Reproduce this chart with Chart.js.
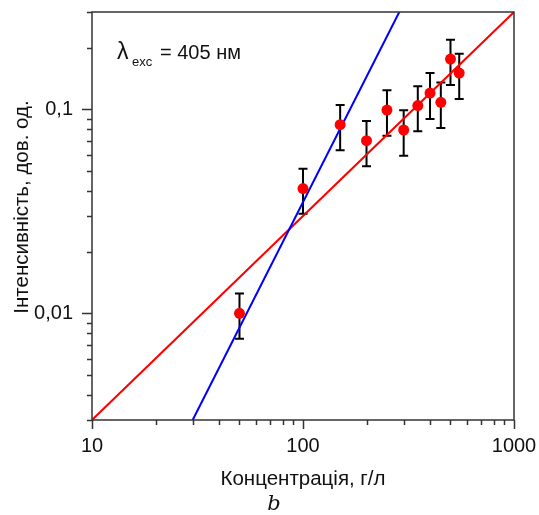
<!DOCTYPE html>
<html>
<head>
<meta charset="utf-8">
<script src="https://cdn.jsdelivr.net/npm/chart.js@4"></script>
<style>
  html, body { margin: 0; padding: 0; background: #fff; }
  #wrap { width: 539px; height: 515px; }
</style>
</head>
<body>
<div id="wrap"><canvas id="chart" width="539" height="515"></canvas></div>
<script>
// data
const concentration = [50, 100, 150, 200, 250, 300, 350, 400, 450, 500, 550];
const intensity = [0.0100, 0.0409, 0.0841, 0.0702, 0.0992, 0.0792, 0.1043, 0.1202, 0.1082, 0.1764, 0.1506];
const errHigh = [0.0125, 0.0512, 0.105, 0.0876, 0.124, 0.0989, 0.1296, 0.1506, 0.1352, 0.2195, 0.1875];
const errLow = [0.0075, 0.0308, 0.063, 0.0526, 0.0743, 0.0593, 0.078, 0.0897, 0.081, 0.1315, 0.1123];

const redFitX = [10, 1000];
const redFitY = [0.003, 0.3];
const blueFitX = [30, 286];
const blueFitY = [0.003, 0.3];

const xTicks = [10, 20, 30, 40, 50, 60, 70, 80, 90, 100, 200, 300, 400, 500, 600, 700, 800, 900, 1000];
const xMajor = [10, 100, 1000];
const yTicks = [0.003, 0.004, 0.005, 0.006, 0.007, 0.008, 0.009, 0.01, 0.02, 0.03, 0.04, 0.05, 0.06, 0.07, 0.08, 0.09, 0.1, 0.2, 0.3];
const yMajor = [0.01, 0.1];
const yLabels = { 0.01: "0,01", 0.1: "0,1" };

const FONT = "'Liberation Sans', Arial, sans-serif";
const AXIS = "#333";

const pts = concentration.map((c, i) => ({ x: c, y: intensity[i] }));
const toXY = (xs, ys) => xs.map((v, i) => ({ x: v, y: ys[i] }));

const frameAndTicks = {
  id: "frameAndTicks",
  beforeDatasetsDraw(chart) {
    const c = chart.ctx;
    const xs = chart.scales.x, ys = chart.scales.y;

    // error bars, under the lines and dots
    c.save();
    c.strokeStyle = "#000";
    c.lineWidth = 2;
    concentration.forEach((v, i) => {
      const px = xs.getPixelForValue(v);
      const top = ys.getPixelForValue(errHigh[i]);
      const bot = ys.getPixelForValue(errLow[i]);
      c.beginPath();
      c.moveTo(px, top); c.lineTo(px, bot);
      c.moveTo(px - 4.5, top); c.lineTo(px + 4.5, top);
      c.moveTo(px - 4.5, bot); c.lineTo(px + 4.5, bot);
      c.stroke();
    });
    c.restore();
  },
  afterDraw(chart) {
    const c = chart.ctx;
    const a = chart.chartArea;
    const xs = chart.scales.x, ys = chart.scales.y;
    c.save();
    c.strokeStyle = AXIS;
    c.lineWidth = 1.5;
    c.strokeRect(a.left, a.top, a.right - a.left, a.bottom - a.top);
    c.beginPath();
    xTicks.forEach(v => {
      const px = Math.round(xs.getPixelForValue(v)) + 0.5;
      const len = xMajor.includes(v) ? 9 : 5;
      c.moveTo(px, a.bottom); c.lineTo(px, a.bottom + len);
    });
    yTicks.forEach(v => {
      const py = Math.round(ys.getPixelForValue(v)) + 0.5;
      const len = yMajor.includes(v) ? 10 : 5;
      c.moveTo(a.left, py); c.lineTo(a.left - len, py);
    });
    c.stroke();

    c.fillStyle = "#111";
    c.textBaseline = "alphabetic";

    // y axis title
    c.save();
    c.translate(28, 207);
    c.rotate(-Math.PI / 2);
    c.textAlign = "center";
    c.font = "20.5px " + FONT;
    c.fillText("Інтенсивність, дов. од.", 0, 0);
    c.restore();

    // annotation
    c.font = "23px " + FONT;
    c.fillText("\u03bb", 117, 59);
    c.font = "13px " + FONT;
    c.fillText("exc", 132, 66);
    c.font = "20px " + FONT;
    c.fillText("= 405 нм", 160, 59);

    // panel letter
    c.font = "italic 21px 'DejaVu Serif', 'Liberation Serif', serif";
    c.textAlign = "center";
    c.fillText("b", 274, 510);
    c.restore();
  }
};

new Chart(document.getElementById("chart"), {
  type: "scatter",
  data: {
    datasets: [
      {
        type: "line",
        data: toXY(redFitX, redFitY),
        borderColor: "#ff0000",
        borderWidth: 2,
        pointRadius: 0,
        order: 3
      },
      {
        type: "line",
        data: toXY(blueFitX, blueFitY),
        borderColor: "#0000ff",
        borderWidth: 2,
        pointRadius: 0,
        order: 2
      },
      {
        data: pts,
        backgroundColor: "#ff0000",
        borderColor: "#ff0000",
        borderWidth: 0,
        pointRadius: 5.5,
        order: 1
      }
    ]
  },
  options: {
    responsive: false,
    animation: false,
    layout: { padding: { left: 0, right: 25, top: 12, bottom: 0 } },
    plugins: { legend: { display: false }, tooltip: { enabled: false } },
    scales: {
      x: {
        type: "logarithmic",
        min: 10,
        max: 1000,
        grid: { display: false },
        border: { display: false },
        afterBuildTicks: s => { s.ticks = xTicks.map(v => ({ value: v })); },
        afterFit: s => { s.height = 95; s.paddingLeft = 0; s.paddingRight = 0; },
        ticks: {
          autoSkip: false,
          maxRotation: 0,
          padding: 6,
          color: "#111",
          font: { family: FONT, size: 20 },
          callback: v => xMajor.includes(v) ? String(v) : ""
        },
        title: {
          display: true,
          text: "Концентрація, г/л",
          color: "#111",
          font: { family: FONT, size: 20.5 },
          padding: { top: 0, bottom: 23 }
        }
      },
      y: {
        type: "logarithmic",
        min: 0.003,
        max: 0.3,
        grid: { display: false },
        border: { display: false },
        afterBuildTicks: s => { s.ticks = yTicks.map(v => ({ value: v })); },
        afterFit: s => { s.width = 92; s.paddingTop = 0; s.paddingBottom = 0; },
        ticks: {
          autoSkip: false,
          padding: 11,
          color: "#111",
          font: { family: FONT, size: 20 },
          callback: v => yLabels[v] || ""
        }
      }
    }
  },
  plugins: [frameAndTicks]
});
</script>
</body>
</html>
